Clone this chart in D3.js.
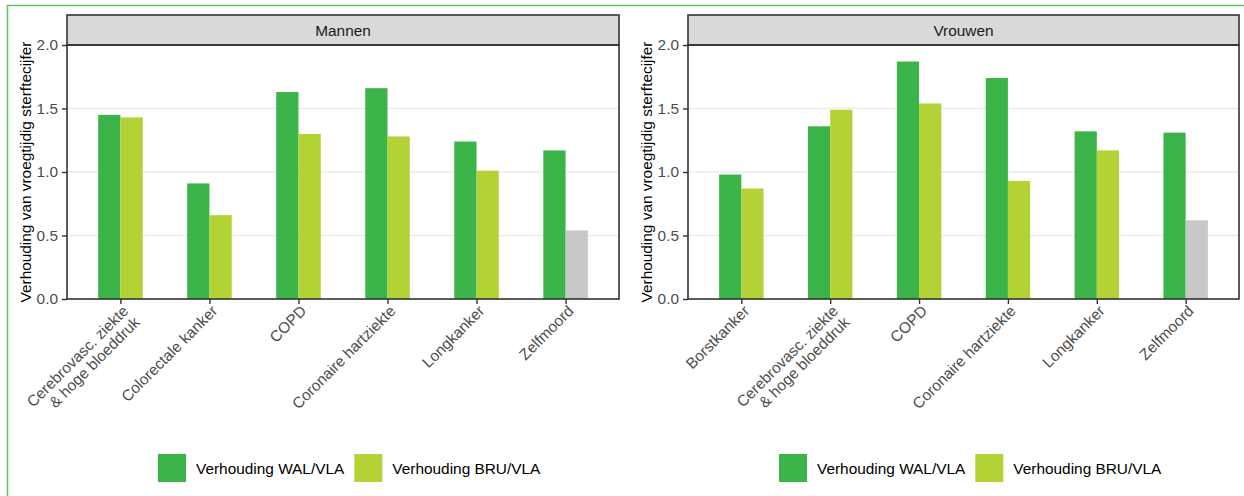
<!DOCTYPE html>
<html>
<head>
<meta charset="utf-8">
<script src="https://cdn.jsdelivr.net/npm/d3@7"></script>
<style>
  html, body { margin: 0; padding: 0; background: #ffffff; }
  svg { display: block; }
  text { font-family: "Liberation Sans", Arial, Helvetica, sans-serif; }
</style>
</head>
<body>
<svg id="chart" width="1244" height="496"></svg>
<script>
// Ratio of premature mortality, Wallonia and Brussels relative to Flanders
const panelTitles = ["Mannen", "Vrouwen"];

const categoriesMen = [
  "Cerebrovasc. ziekte\n& hoge bloeddruk",
  "Colorectale kanker",
  "COPD",
  "Coronaire hartziekte",
  "Longkanker",
  "Zelfmoord"
];
const walMen = [1.45, 0.91, 1.63, 1.66, 1.24, 1.17];
const bruMen = [1.43, 0.66, 1.30, 1.28, 1.01, 0.54];
const bruMutedMen = [false, false, false, false, false, true];

const categoriesWomen = [
  "Borstkanker",
  "Cerebrovasc. ziekte\n& hoge bloeddruk",
  "COPD",
  "Coronaire hartziekte",
  "Longkanker",
  "Zelfmoord"
];
const walWomen = [0.98, 1.36, 1.87, 1.74, 1.32, 1.31];
const bruWomen = [0.87, 1.49, 1.54, 0.93, 1.17, 0.62];
const bruMutedWomen = [false, false, false, false, false, true];

const yTicks = [0, 0.5, 1.0, 1.5, 2.0];
const seriesKeys = ["WAL", "BRU"];
const seriesLabels = ["Verhouding WAL/VLA", "Verhouding BRU/VLA"];
const yTitle = "Verhouding van vroegtijdig sterftecijfer";

const colors = { WAL: "#3bb54a", BRU: "#b2d235", muted: "#c8c8c8" };
const FONT = 15.4;

const svg = d3.select("#chart");

// outer frame line
svg.append("path")
  .attr("d", "M7.5,500 L7.5,5.5 L1250,5.5")
  .attr("fill", "none")
  .attr("stroke", "#5cc65c")
  .attr("stroke-width", 1.5);

const panels = [
  { title: panelTitles[0], cats: categoriesMen, wal: walMen, bru: bruMen, muted: bruMutedMen, x0: 67, x1: 619 },
  { title: panelTitles[1], cats: categoriesWomen, wal: walWomen, bru: bruWomen, muted: bruMutedWomen, x0: 688, x1: 1239 }
];

const stripTop = 15, plotTop = 45, plotBottom = 299;

const y = d3.scaleLinear().domain([0, 2]).range([plotBottom, plotTop]);

panels.forEach(p => {
  const g = svg.append("g");
  const x = d3.scalePoint().domain(p.cats).range([p.x0, p.x1]).padding(0.6);
  const step = x.step();
  const dodge = d3.scaleBand().domain(seriesKeys).range([-0.25 * step, 0.25 * step]);

  // horizontal grid
  g.append("g").selectAll("line")
    .data(yTicks.filter(t => t > 0 && t < 2))
    .join("line")
    .attr("x1", p.x0).attr("x2", p.x1)
    .attr("y1", d => y(d)).attr("y2", d => y(d))
    .attr("stroke", "#ebebeb").attr("stroke-width", 1.5);

  // bars
  const rows = p.cats.map((c, i) => ({ cat: c, WAL: p.wal[i], BRU: p.bru[i], muted: p.muted[i] }));
  const groups = g.append("g").selectAll("g")
    .data(rows).join("g")
    .attr("transform", d => `translate(${x(d.cat)},0)`);
  groups.selectAll("rect")
    .data(d => seriesKeys.map(k => ({ key: k, value: d[k], muted: k === "BRU" && d.muted })))
    .join("rect")
    .attr("x", d => dodge(d.key))
    .attr("width", dodge.bandwidth())
    .attr("y", d => y(d.value))
    .attr("height", d => y(0) - y(d.value))
    .attr("fill", d => d.muted ? colors.muted : colors[d.key]);

  // strip
  g.append("rect")
    .attr("x", p.x0).attr("y", stripTop)
    .attr("width", p.x1 - p.x0).attr("height", plotTop - stripTop)
    .attr("fill", "#d9d9d9").attr("stroke", "#333333").attr("stroke-width", 1.6);
  g.append("text")
    .attr("x", (p.x0 + p.x1) / 2).attr("y", (stripTop + plotTop) / 2)
    .attr("dy", "0.36em").attr("text-anchor", "middle")
    .attr("font-size", FONT).attr("fill", "#1a1a1a")
    .text(p.title);

  // panel border
  g.append("rect")
    .attr("x", p.x0).attr("y", plotTop)
    .attr("width", p.x1 - p.x0).attr("height", plotBottom - plotTop)
    .attr("fill", "none").attr("stroke", "#333333").attr("stroke-width", 1.6);

  // y axis
  const yAxis = g.append("g")
    .attr("transform", `translate(${p.x0},0)`)
    .call(d3.axisLeft(y).tickValues(yTicks).tickFormat(d3.format(".1f")).tickSize(5).tickPadding(4));
  yAxis.select(".domain").remove();
  yAxis.selectAll(".tick line").attr("stroke", "#333333").attr("stroke-width", 1.4);
  yAxis.selectAll(".tick text")
    .attr("font-size", FONT).attr("fill", "#4d4d4d")
    .attr("font-family", "\"Liberation Sans\", Arial, sans-serif");

  // y title
  g.append("text")
    .attr("transform", `translate(${p.x0 - 42},${(plotTop + plotBottom) / 2}) rotate(-90)`)
    .attr("text-anchor", "middle").attr("dy", "0.36em")
    .attr("font-size", FONT).attr("fill", "#000000")
    .text(yTitle);

  // x axis
  const xAxis = g.append("g")
    .attr("transform", `translate(0,${plotBottom})`)
    .call(d3.axisBottom(x).tickSize(5).tickFormat(""));
  xAxis.select(".domain").remove();
  xAxis.selectAll(".tick line").attr("stroke", "#333333").attr("stroke-width", 1.4);

  const labels = g.append("g").selectAll("text")
    .data(p.cats).join("text")
    .attr("transform", d => `translate(${x(d)},${plotBottom + 4}) rotate(-45)`)
    .attr("text-anchor", "end")
    .attr("font-size", FONT).attr("fill", "#4d4d4d");
  labels.each(function (d) {
    const lines = d.split("\n");
    d3.select(this).selectAll("tspan")
      .data(lines).join("tspan")
      .attr("x", 0)
      .attr("dy", (l, i) => i === 0 ? "0.82em" : "1.05em")
      .text(l => l);
  });

  // legend
  const legend = g.append("g").attr("transform", `translate(${p.x0 + 91},454)`);
  let lx = 0;
  seriesKeys.forEach((k, i) => {
    legend.append("rect")
      .attr("x", lx).attr("y", 0).attr("width", 28).attr("height", 28)
      .attr("fill", colors[k]);
    const t = legend.append("text")
      .attr("x", lx + 38).attr("y", 14).attr("dy", "0.36em")
      .attr("font-size", FONT).attr("fill", "#000000")
      .text(seriesLabels[i]);
    lx += 38 + t.node().getComputedTextLength() + 10;
  });
});
</script>
</body>
</html>
